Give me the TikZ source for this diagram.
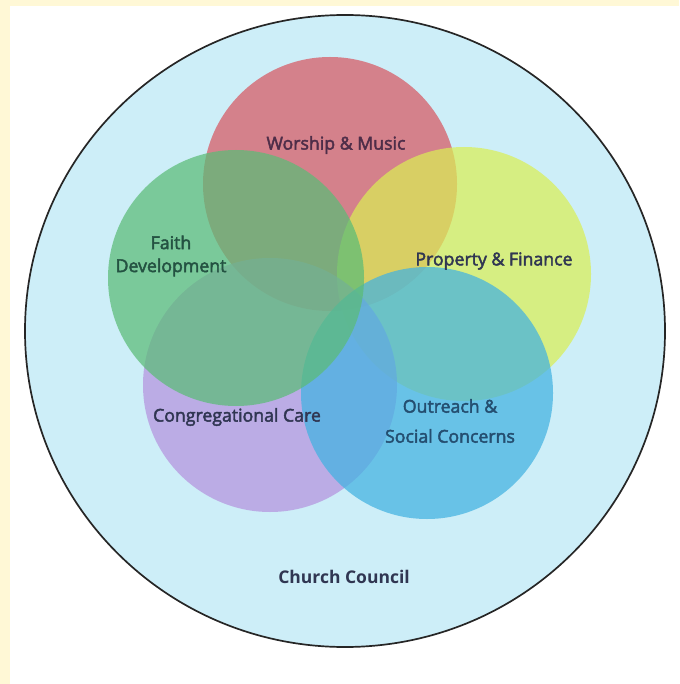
\documentclass[tikz,border=0pt]{standalone}
\usepackage{fontspec}
\setmainfont{Open Sans}
\newfontfamily\lblfont[RawFeature={embolden=2.5}]{Open Sans}
\definecolor{cream}{RGB}{255,248,214}
\definecolor{councilbg}{RGB}{205,238,248}
\definecolor{cred}{RGB}{215,87,98}
\definecolor{cgreen}{RGB}{91,188,119}
\definecolor{cyellow}{RGB}{218,238,85}
\definecolor{cpurple}{RGB}{181,147,222}
\definecolor{cblue}{RGB}{66,178,225}
\definecolor{txt}{RGB}{48,54,82}
\definecolor{txtred}{RGB}{78,45,72}
\definecolor{txtgreen}{RGB}{36,82,66}
\definecolor{txtblue}{RGB}{36,78,112}
\begin{document}
\begin{tikzpicture}[x=1pt,y=-1pt,
  team/.style={fill opacity=0.72},
  lbl/.style={font=\lblfont\fontsize{17.7}{23}\selectfont, text=txt, align=center, inner sep=0pt}]
\useasboundingbox (0,0) rectangle (679,684);
\fill[cream] (0,0) rectangle (679,684);
\fill[white] (10,6) rectangle (679,684);
\filldraw[fill=councilbg, draw=black!85, line width=1.7pt] (345,331) ellipse [x radius=320, y radius=316];
\fill[team, cred] (330,184) circle [radius=127];
\fill[team, cyellow] (464,274) circle [radius=127];
\fill[team, cpurple] (270,385) circle [radius=127];
\fill[team, cblue] (427,393) circle [radius=126];
\fill[team, cgreen] (236,278) circle [radius=128];
\node[lbl, text=txtred] (wm) at (336,145) {Worship \& Music};
\node[lbl, text=txtgreen] (fd) at (171,256) {Faith\\Development};
\node[lbl] (pf) at (494,261) {Property \& Finance};
\node[lbl] (cc) at (237,417) {Congregational Care};
\node[lbl, text=txtblue, font=\lblfont\fontsize{17.7}{30}\selectfont] (os) at (450,421) {Outreach \&\\Social Concerns};
\node[lbl, font=\fontsize{17.5}{20}\selectfont\bfseries] (ch) at (344,577) {Church Council};
\end{tikzpicture}
\end{document}
